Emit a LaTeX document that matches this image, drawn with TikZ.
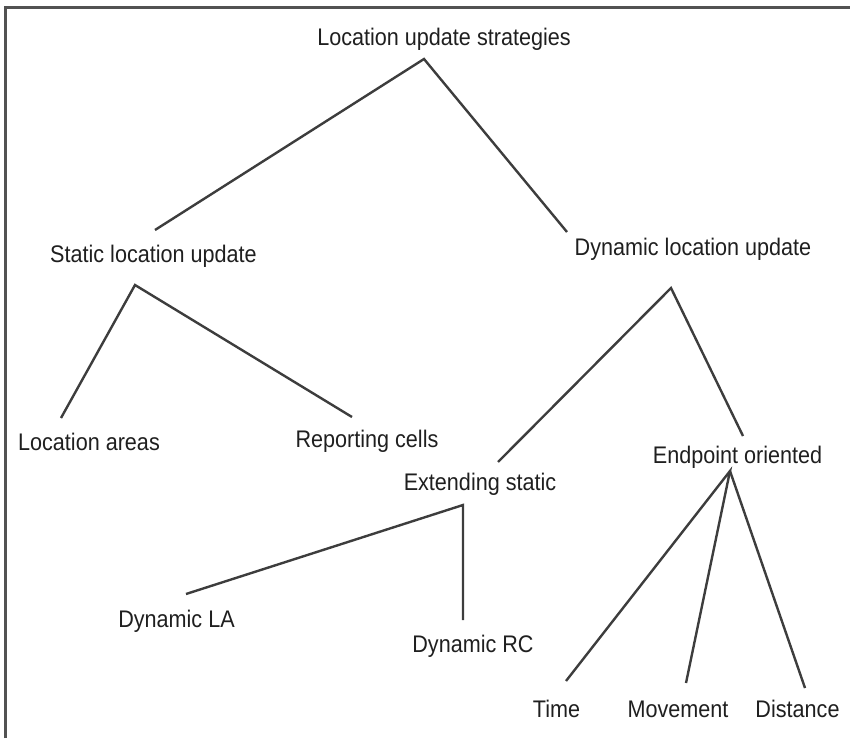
\documentclass[tikz,border=0pt]{standalone}
\usepackage{fontspec}
\setmainfont{Liberation Sans}[FakeStretch=0.9]
\begin{document}
\begin{tikzpicture}[x=1pt,y=-1pt,
  label/.style={anchor=base,inner sep=0pt,font=\fontsize{24}{28}\selectfont,text=black!88},
  branch/.style={draw=black!76,line width=2.4pt},
  frame/.style={draw=black!68,line width=3pt}]
\useasboundingbox (0,0) rectangle (850,738);
% frame: left and top edges only
\draw[frame] (5.5,738) -- (5.5,7.5) -- (850,7.5);

% labels
\node[label] (root) at (444,46) {Location update strategies};
\node[label] (stat) at (153.5,262) {Static location update};
\node[label] (dyn)  at (693,255) {Dynamic location update};
\node[label] (la)   at (89,450) {Location areas};
\node[label] (rc)   at (367,447) {Reporting cells};
\node[label] (ext)  at (480,490) {Extending static};
\node[label] (end)  at (737.5,463) {Endpoint oriented};
\node[label] (dla)  at (176.5,627) {Dynamic LA};
\node[label] (drc)  at (473,652) {Dynamic RC};
\node[label] (time) at (556.5,717) {Time};
\node[label] (mov)  at (678,717) {Movement};
\node[label] (dist) at (797.5,717) {Distance};

% junction points below the parent labels
\coordinate (root-j) at (424,59);
\coordinate (stat-j) at (135,285);
\coordinate (dyn-j)  at (671,288);
\coordinate (ext-j)  at (463,505);
\coordinate (end-j)  at (730,471);

% line ends above the child labels
\coordinate (stat-t) at (155,230);
\coordinate (dyn-t)  at (567,232);
\coordinate (la-t)   at (61,418);
\coordinate (rc-t)   at (352,417);
\coordinate (ext-t)  at (498,462);
\coordinate (end-t)  at (743,436);
\coordinate (dla-t)  at (186,594);
\coordinate (drc-t)  at (463,620);
\coordinate (time-t) at (566,681);
\coordinate (mov-t)  at (686,683);
\coordinate (dist-t) at (805,688);

\draw[branch] (stat-t) -- (root-j) -- (dyn-t);
\draw[branch] (la-t) -- (stat-j) -- (rc-t);
\draw[branch] (ext-t) -- (dyn-j) -- (end-t);
\draw[branch] (dla-t) -- (ext-j) -- (drc-t);
\draw[branch] (time-t) -- (end-j) -- (mov-t);
\draw[branch] (end-j) -- (dist-t);
\end{tikzpicture}
\end{document}
